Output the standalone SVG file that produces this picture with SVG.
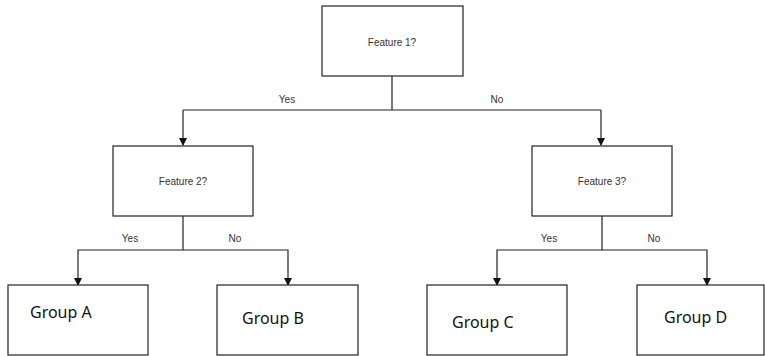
<svg xmlns="http://www.w3.org/2000/svg" width="765" height="356" viewBox="0 0 765 356">
<style>
.box{fill:#fff;stroke:#222;stroke-width:1.2}
.ft{font-family:"Liberation Sans",Arial,sans-serif;font-size:10px;fill:#333;text-anchor:middle}
.gt{font-family:"Noto Sans","Open Sans",sans-serif;font-size:16px;fill:#111}
.lbl{font-family:"Liberation Sans",Arial,sans-serif;font-size:10px;fill:#333;text-anchor:middle}
.edge{fill:none;stroke:#222;stroke-width:1.2}
</style>
<defs>
<marker id="arr" markerWidth="8" markerHeight="8" refX="7" refY="4" orient="auto" markerUnits="userSpaceOnUse">
<path d="M0,0 L8,4 L0,8 Z" fill="#111"/>
</marker>
</defs>
<rect width="765" height="356" fill="#fff"/>
<g id="connectors">
<path class="edge" d="M392,76 V110"/>
<path class="edge" d="M183,110 H601"/>
<path class="edge" d="M183,110 V145" marker-end="url(#arr)"/>
<path class="edge" d="M601,110 V145" marker-end="url(#arr)"/>
<path class="edge" d="M183,216 V250 H78 V285" marker-end="url(#arr)"/>
<path class="edge" d="M183,250 H288 V285" marker-end="url(#arr)"/>
<path class="edge" d="M602,216 V250 H497 V285" marker-end="url(#arr)"/>
<path class="edge" d="M602,250 H707 V285" marker-end="url(#arr)"/>
<text class="lbl" x="287" y="103">Yes</text>
<text class="lbl" x="497" y="103">No</text>
<text class="lbl" x="130" y="242">Yes</text>
<text class="lbl" x="235" y="242">No</text>
<text class="lbl" x="549" y="242">Yes</text>
<text class="lbl" x="654" y="242">No</text>
</g>
<g id="feature1"><rect class="box" x="322" y="6" width="141" height="70"/><text class="ft" x="392" y="46">Feature 1?</text></g>
<g id="feature2"><rect class="box" x="113" y="146" width="140" height="70"/><text class="ft" x="183" y="185">Feature 2?</text></g>
<g id="feature3"><rect class="box" x="532" y="146" width="140" height="70"/><text class="ft" x="602" y="185">Feature 3?</text></g>
<g id="groupA"><rect class="box" x="8" y="285" width="140" height="70"/><text class="gt" x="30" y="318">Group A</text></g>
<g id="groupB"><rect class="box" x="217" y="285" width="141" height="70"/><text class="gt" x="242" y="324">Group B</text></g>
<g id="groupC"><rect class="box" x="427" y="285" width="140" height="70"/><text class="gt" x="452" y="328">Group C</text></g>
<g id="groupD"><rect class="box" x="637" y="285" width="127" height="70"/><text class="gt" x="664" y="323">Group D</text></g>
</svg>
